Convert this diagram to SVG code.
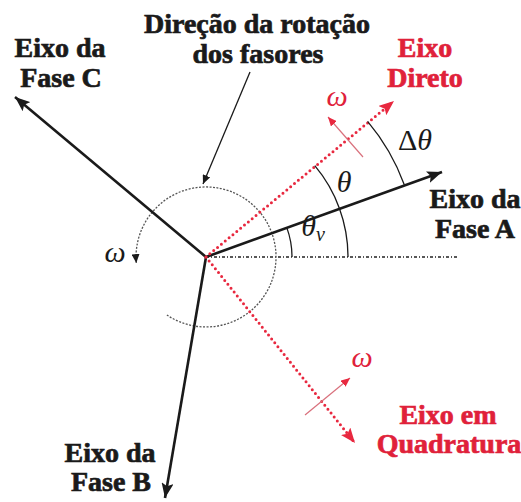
<svg xmlns="http://www.w3.org/2000/svg" width="521" height="502" viewBox="0 0 521 502">
<style>
.lbl{font-family:"Liberation Serif","Times New Roman",serif;font-weight:700;font-size:28px;text-anchor:middle;fill:#1a1a1a;stroke:#1a1a1a;stroke-width:0.7}
.red{fill:#e0213a;stroke:#e0213a}
.math{font-family:"Liberation Serif","Times New Roman",serif;font-style:italic;font-size:30px;text-anchor:middle;fill:#1a1a1a}
.mred{fill:#e0213a}
.axis{stroke:#1a1a1a;stroke-width:2.6;fill:none}
.rdot{stroke:#e8283f;stroke-width:3;stroke-dasharray:0 5;stroke-linecap:round;fill:none}
.thin{stroke:#1a1a1a;stroke-width:1.3;fill:none}
</style>
<defs>
<marker id="ab" markerUnits="userSpaceOnUse" markerWidth="16" markerHeight="12" refX="15" refY="6" orient="auto"><path d="M0,0 L15,6 L0,12 L3,6 z" fill="#1a1a1a"/></marker>
<marker id="ar" markerUnits="userSpaceOnUse" markerWidth="16" markerHeight="12" refX="15" refY="6" orient="auto"><path d="M0,0 L15,6 L0,12 L3,6 z" fill="#e8283f"/></marker>
<marker id="sb" markerUnits="userSpaceOnUse" markerWidth="10" markerHeight="8" refX="9" refY="4" orient="auto"><path d="M0,0 L9,4 L0,8 z" fill="#1a1a1a"/></marker>
<marker id="sr" markerUnits="userSpaceOnUse" markerWidth="10" markerHeight="8" refX="9" refY="4" orient="auto"><path d="M0,0 L9,4 L0,8 z" fill="#e8283f"/></marker>
</defs>
<rect width="521" height="502" fill="#fff"/>
<g id="connectors">
<line x1="206" y1="257" x2="458" y2="257" stroke="#222" stroke-width="1.5" stroke-dasharray="3 2 1 2"/>
<path d="M166.9,315 A70,70 0 1 0 136.3,263.1" stroke="#555" stroke-width="1.3" stroke-dasharray="2 1.5" fill="none" marker-end="url(#sb)"/>
<line class="axis" x1="206" y1="257" x2="442" y2="172" marker-end="url(#ab)"/>
<line class="axis" x1="206" y1="257" x2="15" y2="97" marker-end="url(#ab)"/>
<line class="axis" x1="206" y1="257" x2="165" y2="498" marker-end="url(#ab)"/>
<line class="rdot" x1="206" y1="257" x2="394" y2="101" marker-end="url(#ar)"/>
<line class="rdot" x1="206" y1="257" x2="355" y2="443" marker-end="url(#ar)"/>
<line class="thin" x1="250" y1="72" x2="203" y2="184" marker-end="url(#sb)"/>
<path class="thin" d="M292,257 A86,86 0 0 0 286.8,227.6"/>
<path class="thin" d="M348,257 A142,142 0 0 0 314.8,165.7"/>
<path class="thin" d="M404.3,184.8 A211,211 0 0 0 367.6,121.4"/>
<line x1="363" y1="157" x2="328" y2="117" stroke="#d9707c" stroke-width="1.2" marker-end="url(#sr)"/>
<line x1="305" y1="415" x2="350" y2="378" stroke="#d9707c" stroke-width="1.2" marker-end="url(#sr)"/>
</g>
<g id="fase-c"><text class="lbl" x="60" y="57">Eixo da</text><text class="lbl" x="61" y="87">Fase C</text></g>
<g id="direcao"><text class="lbl" x="257" y="33">Direção da rotação</text><text class="lbl" x="258" y="63">dos fasores</text></g>
<g id="eixo-direto"><text class="lbl red" x="425" y="57">Eixo</text><text class="lbl red" x="425" y="87">Direto</text></g>
<g id="fase-a"><text class="lbl" x="475" y="208">Eixo da</text><text class="lbl" x="475" y="238">Fase A</text></g>
<g id="fase-b"><text class="lbl" x="110" y="462">Eixo da</text><text class="lbl" x="111" y="491">Fase B</text></g>
<g id="eixo-quadratura"><text class="lbl red" x="448" y="424">Eixo em</text><text class="lbl red" x="449" y="453">Quadratura</text></g>
<g id="math-labels">
<text class="math" x="115" y="262">ω</text>
<text class="math mred" x="337" y="106">ω</text>
<text class="math mred" x="362" y="367">ω</text>
<text class="math" x="344" y="192">θ</text>
<text class="math" x="415" y="150"><tspan font-style="normal">Δ</tspan>θ</text>
<text class="math" x="313" y="236">θ<tspan font-size="20" dy="5">v</tspan></text>
</g>
</svg>
